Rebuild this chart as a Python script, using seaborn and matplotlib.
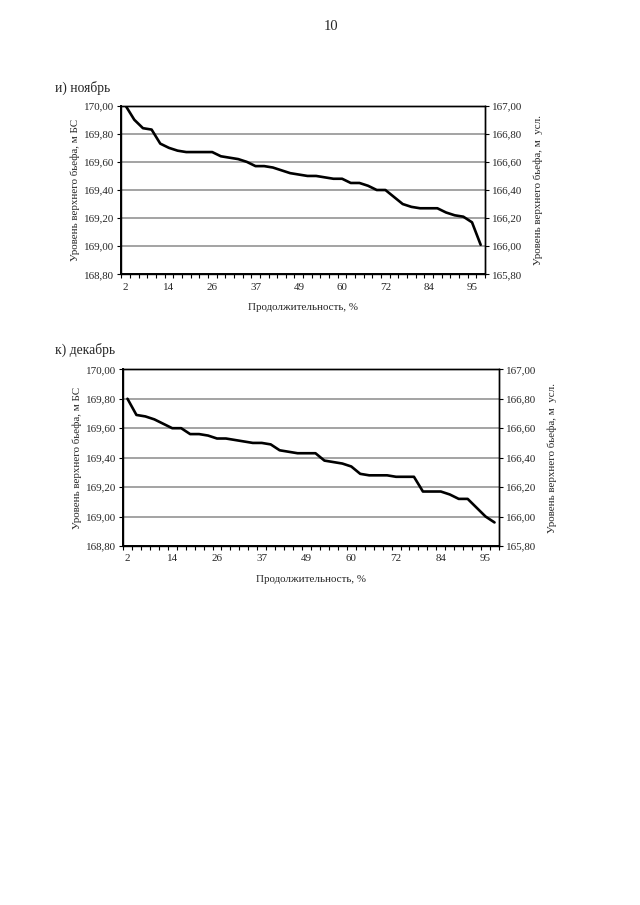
import numpy as np
import pandas as pd
import matplotlib
matplotlib.use("Agg")
import matplotlib.pyplot as plt
from matplotlib.ticker import FixedLocator, FuncFormatter
import seaborn as sns

sns.set_theme(style="white")
plt.rcParams['font.family'] = ['Liberation Serif', 'DejaVu Serif']

# ---- data ----
duration_labels = ["2", "14", "26", "37", "49", "60", "72", "84", "95"]
label_every = 5

nov_level = [170.00, 169.90, 169.84, 169.83, 169.73, 169.70, 169.68, 169.67, 169.67, 169.67,
             169.67, 169.64, 169.63, 169.62, 169.60, 169.57, 169.57, 169.56, 169.54, 169.52,
             169.51, 169.50, 169.50, 169.49, 169.48, 169.48, 169.45, 169.45, 169.43, 169.40,
             169.40, 169.35, 169.30, 169.28, 169.27, 169.27, 169.27, 169.24, 169.22, 169.21,
             169.17, 169.01]

dec_level = [169.80, 169.69, 169.68, 169.66, 169.63, 169.60, 169.60, 169.56, 169.56, 169.55,
             169.53, 169.53, 169.52, 169.51, 169.50, 169.50, 169.49, 169.45, 169.44, 169.43,
             169.43, 169.43, 169.38, 169.37, 169.36, 169.34, 169.29, 169.28, 169.28, 169.28,
             169.27, 169.27, 169.27, 169.17, 169.17, 169.17, 169.15, 169.12, 169.12, 169.06,
             169.00, 168.96]

y_left = (168.80, 170.00)
y_offset = 3.00  # БС -> условная отметка
titles = ["и) ноябрь", "к) декабрь"]
xlabel = "Продолжительность, %"
ylabel_left = "Уровень верхнего бьефа, м БС"
ylabel_right = "Уровень верхнего бьефа, м  усл."

fig = plt.figure(figsize=(6.4, 9.05), dpi=100)
W, H = 640, 905

def px_axes(l, t, r, b):
    return fig.add_axes([l / W, 1 - b / H, (r - l) / W, (b - t) / H])

comma = FuncFormatter(lambda v, p: f"{v:.2f}".replace(".", ","))

panels = [
    (nov_level, (121.3, 105.7, 485.0, 274.3), 88, 307),
    (dec_level, (123.0, 369.3, 499.0, 546.0), 350, 579),
]

fs = 7.9
for k, (vals, box, ty, xly) in enumerate(panels):
    ax = px_axes(*box)
    n = len(vals)
    df = pd.DataFrame({"idx": np.arange(n), "level": vals})
    sns.lineplot(data=df, x="idx", y="level", ax=ax, color="black", lw=1.9)
    ax.set_xlim(-0.5, n - 0.5)
    ax.set_ylim(*y_left)
    yt = np.round(np.arange(y_left[0], y_left[1] + 0.001, 0.2), 2)
    ax.set_yticks(yt)
    ax.yaxis.set_major_formatter(comma)
    ax.grid(axis="y", color="#8a8a8a", lw=1.1)
    ax.grid(axis="x", visible=False)
    ax.set_xticks(np.arange(0, n, label_every)[:len(duration_labels)])
    ax.set_xticklabels(duration_labels)
    ax.xaxis.set_minor_locator(FixedLocator(np.arange(-0.5, n, 1.0)))
    ax.tick_params(axis="x", which="major", length=0, pad=6, labelsize=fs)
    ax.tick_params(axis="x", which="minor", length=3, width=0.8, direction="out", color="black", bottom=True)
    ax.tick_params(axis="y", which="major", length=3, width=0.8, direction="out", color="black",
                   left=True, labelsize=fs, pad=2)
    for s in ax.spines.values():
        s.set_color("black")
        s.set_linewidth(1.0)
    ax.spines["left"].set_linewidth(1.4)
    ax.spines["bottom"].set_linewidth(1.4)
    ax.set_xlabel("")
    ax.set_ylabel(ylabel_left, fontsize=fs, labelpad=3)

    ax2 = ax.twinx()
    ax2.set_ylim(y_left[0] - y_offset, y_left[1] - y_offset)
    ax2.set_yticks(yt - y_offset)
    ax2.yaxis.set_major_formatter(comma)
    ax2.tick_params(axis="y", length=3, width=0.8, direction="out", color="black",
                    right=True, labelsize=fs, pad=2)
    ax2.grid(False)
    ax2.set_ylabel(ylabel_right, fontsize=fs, labelpad=8)
    for s in ax2.spines.values():
        s.set_color("black")
        s.set_linewidth(1.0)

    fig.text(55 / W, 1 - ty / H, titles[k], fontsize=9.8, ha="left", va="center")
    cx = (box[0] + box[2]) / 2
    fig.text(cx / W, 1 - xly / H, xlabel, fontsize=fs, ha="center", va="center")

fig.text(331 / W, 1 - 27 / H, "10", fontsize=10.5, ha="center", va="center")

fig.savefig("out.png", dpi=100, facecolor="white")
